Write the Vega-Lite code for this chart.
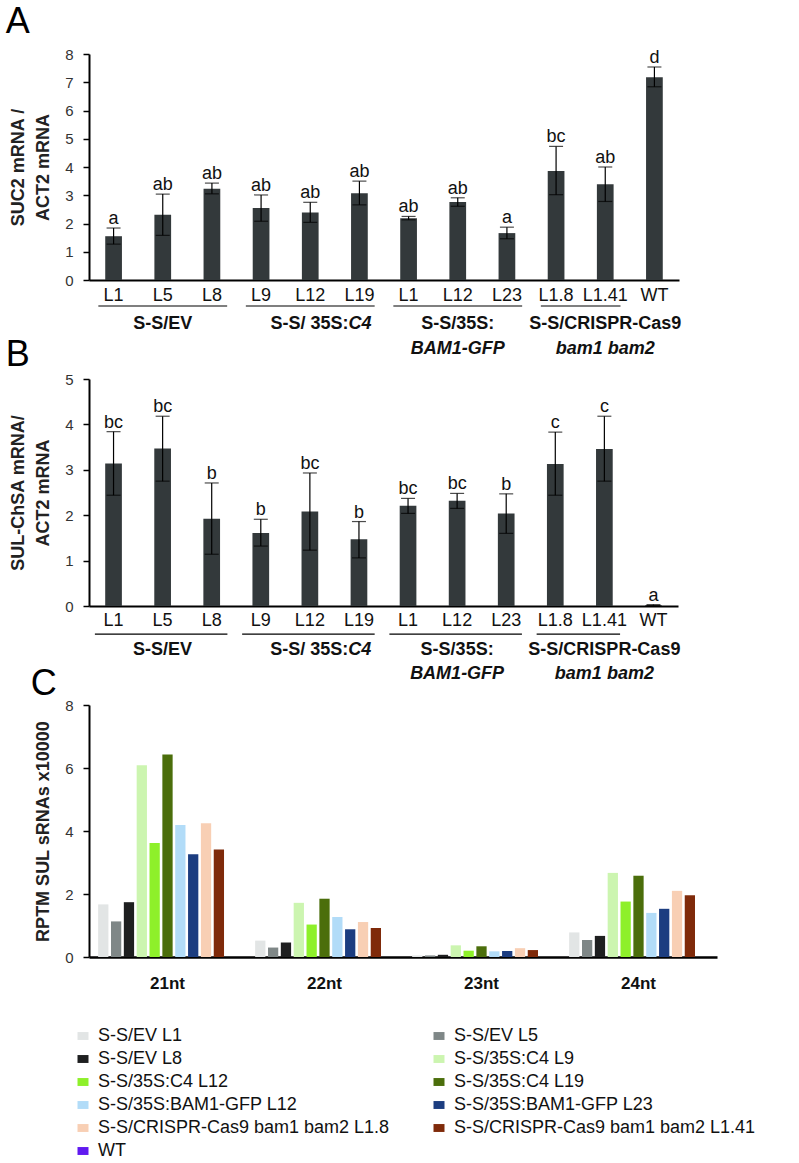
{
  "$schema": "https://vega.github.io/schema/vega-lite/v6.json",
  "padding": {"left": 5, "top": 4, "right": 5, "bottom": 0},
  "config": {
    "font": "Liberation Sans",
    "view": {"stroke": null},
    "axis": {"grid": false, "domainColor": "#000", "tickColor": "#000", "labelColor": "#333", "titleColor": "#222"}
  },
  "datasets": {
    "qA": [
      {"id": "EV L1", "mean": 1.55, "lo": 1.27, "hi": 1.84, "sig": "a"},
      {"id": "EV L5", "mean": 2.31, "lo": 1.58, "hi": 3.04, "sig": "ab"},
      {"id": "EV L8", "mean": 3.23, "lo": 3.05, "hi": 3.43, "sig": "ab"},
      {"id": "C4 L9", "mean": 2.55, "lo": 2.08, "hi": 3.01, "sig": "ab"},
      {"id": "C4 L12", "mean": 2.39, "lo": 2.04, "hi": 2.75, "sig": "ab"},
      {"id": "C4 L19", "mean": 3.07, "lo": 2.66, "hi": 3.5, "sig": "ab"},
      {"id": "BAM L1", "mean": 2.19, "lo": 2.13, "hi": 2.25, "sig": "ab"},
      {"id": "BAM L12", "mean": 2.76, "lo": 2.61, "hi": 2.91, "sig": "ab"},
      {"id": "BAM L23", "mean": 1.66, "lo": 1.46, "hi": 1.87, "sig": "a"},
      {"id": "CR L1.8", "mean": 3.86, "lo": 3.02, "hi": 4.73, "sig": "bc"},
      {"id": "CR L1.41", "mean": 3.39, "lo": 2.78, "hi": 4.0, "sig": "ab"},
      {"id": "WT", "mean": 7.18, "lo": 6.84, "hi": 7.54, "sig": "d"}
    ],
    "qB": [
      {"id": "EV L1", "mean": 3.14, "lo": 2.44, "hi": 3.84, "sig": "bc"},
      {"id": "EV L5", "mean": 3.47, "lo": 2.75, "hi": 4.18, "sig": "bc"},
      {"id": "EV L8", "mean": 1.92, "lo": 1.14, "hi": 2.71, "sig": "b"},
      {"id": "C4 L9", "mean": 1.61, "lo": 1.32, "hi": 1.91, "sig": "b"},
      {"id": "C4 L12", "mean": 2.08, "lo": 1.23, "hi": 2.93, "sig": "bc"},
      {"id": "C4 L19", "mean": 1.47, "lo": 1.06, "hi": 1.86, "sig": "b"},
      {"id": "BAM L1", "mean": 2.21, "lo": 2.04, "hi": 2.37, "sig": "bc"},
      {"id": "BAM L12", "mean": 2.32, "lo": 2.15, "hi": 2.48, "sig": "bc"},
      {"id": "BAM L23", "mean": 2.04, "lo": 1.6, "hi": 2.47, "sig": "b"},
      {"id": "CR L1.8", "mean": 3.13, "lo": 2.44, "hi": 3.83, "sig": "c"},
      {"id": "CR L1.41", "mean": 3.46, "lo": 2.75, "hi": 4.18, "sig": "c"},
      {"id": "WT", "mean": 0.02, "lo": 0.01, "hi": 0.03, "sig": "a"}
    ],
    "groups": [
      {"first": "EV L1", "last": "EV L8", "center": "EV L5", "name": "S-S/EV"},
      {"first": "C4 L9", "last": "C4 L19", "center": "C4 L12", "name": "S-S/ 35S:", "construct": "C4"},
      {"first": "BAM L1", "last": "BAM L23", "center": "BAM L12", "name": "S-S/35S:", "construct": "BAM1-GFP"},
      {"first": "CR L1.8", "last": "CR L1.41", "center": "CR L1.41", "name": "S-S/CRISPR-Cas9", "construct": "bam1 bam2"}
    ],
    "srna": [
      {"size": "21nt", "sample": "S-S/EV L1", "value": 1.67},
      {"size": "21nt", "sample": "S-S/EV L5", "value": 1.13},
      {"size": "21nt", "sample": "S-S/EV L8", "value": 1.74},
      {"size": "21nt", "sample": "S-S/35S:C4 L9", "value": 6.09},
      {"size": "21nt", "sample": "S-S/35S:C4 L12", "value": 3.62},
      {"size": "21nt", "sample": "S-S/35S:C4 L19", "value": 6.43},
      {"size": "21nt", "sample": "S-S/35S:BAM1-GFP L12", "value": 4.19},
      {"size": "21nt", "sample": "S-S/35S:BAM1-GFP L23", "value": 3.26},
      {"size": "21nt", "sample": "S-S/CRISPR-Cas9 bam1 bam2 L1.8", "value": 4.25},
      {"size": "21nt", "sample": "S-S/CRISPR-Cas9 bam1 bam2 L1.41", "value": 3.41},
      {"size": "21nt", "sample": "WT", "value": 0},
      {"size": "22nt", "sample": "S-S/EV L1", "value": 0.52},
      {"size": "22nt", "sample": "S-S/EV L5", "value": 0.3},
      {"size": "22nt", "sample": "S-S/EV L8", "value": 0.46},
      {"size": "22nt", "sample": "S-S/35S:C4 L9", "value": 1.72},
      {"size": "22nt", "sample": "S-S/35S:C4 L12", "value": 1.03},
      {"size": "22nt", "sample": "S-S/35S:C4 L19", "value": 1.85},
      {"size": "22nt", "sample": "S-S/35S:BAM1-GFP L12", "value": 1.27},
      {"size": "22nt", "sample": "S-S/35S:BAM1-GFP L23", "value": 0.88},
      {"size": "22nt", "sample": "S-S/CRISPR-Cas9 bam1 bam2 L1.8", "value": 1.11},
      {"size": "22nt", "sample": "S-S/CRISPR-Cas9 bam1 bam2 L1.41", "value": 0.92},
      {"size": "22nt", "sample": "WT", "value": 0},
      {"size": "23nt", "sample": "S-S/EV L1", "value": 0.05},
      {"size": "23nt", "sample": "S-S/EV L5", "value": 0.05},
      {"size": "23nt", "sample": "S-S/EV L8", "value": 0.07},
      {"size": "23nt", "sample": "S-S/35S:C4 L9", "value": 0.37},
      {"size": "23nt", "sample": "S-S/35S:C4 L12", "value": 0.2},
      {"size": "23nt", "sample": "S-S/35S:C4 L19", "value": 0.34},
      {"size": "23nt", "sample": "S-S/35S:BAM1-GFP L12", "value": 0.18},
      {"size": "23nt", "sample": "S-S/35S:BAM1-GFP L23", "value": 0.19},
      {"size": "23nt", "sample": "S-S/CRISPR-Cas9 bam1 bam2 L1.8", "value": 0.28},
      {"size": "23nt", "sample": "S-S/CRISPR-Cas9 bam1 bam2 L1.41", "value": 0.22},
      {"size": "23nt", "sample": "WT", "value": 0},
      {"size": "24nt", "sample": "S-S/EV L1", "value": 0.78},
      {"size": "24nt", "sample": "S-S/EV L5", "value": 0.54},
      {"size": "24nt", "sample": "S-S/EV L8", "value": 0.67},
      {"size": "24nt", "sample": "S-S/35S:C4 L9", "value": 2.67},
      {"size": "24nt", "sample": "S-S/35S:C4 L12", "value": 1.76},
      {"size": "24nt", "sample": "S-S/35S:C4 L19", "value": 2.58},
      {"size": "24nt", "sample": "S-S/35S:BAM1-GFP L12", "value": 1.4},
      {"size": "24nt", "sample": "S-S/35S:BAM1-GFP L23", "value": 1.53},
      {"size": "24nt", "sample": "S-S/CRISPR-Cas9 bam1 bam2 L1.8", "value": 2.1},
      {"size": "24nt", "sample": "S-S/CRISPR-Cas9 bam1 bam2 L1.41", "value": 1.96},
      {"size": "24nt", "sample": "WT", "value": 0}
    ]
  },
  "bounds": "flush",
  "spacing": 99,
  "vconcat": [
    {
      "title": {"text": "A", "fontSize": 36, "fontWeight": "normal", "anchor": "start", "frame": "bounds", "dx": -4, "offset": 6, "color": "#000"},
      "width": 590,
      "height": 226,
      "layer": [
        {
          "data": {"name": "qA"},
          "mark": {"type": "bar", "color": "#33393b", "width": {"band": 0.34}},
          "encoding": {
            "x": {"field": "id", "type": "nominal", "scale": {"domain": ["EV L1","EV L5","EV L8","C4 L9","C4 L12","C4 L19","BAM L1","BAM L12","BAM L23","CR L1.8","CR L1.41","WT"], "paddingInner": 0, "paddingOuter": 0},
              "axis": {"title": null, "labelExpr": "split(datum.value, ' ')[1] || datum.value", "labelAngle": 0, "labelFontSize": 18, "labelColor": "#111", "ticks": false, "labelPadding": 6, "domainWidth": 2}},
            "y": {"field": "mean", "type": "quantitative", "scale": {"domain": [0, 8], "nice": false},
              "axis": {"values": [0,1,2,3,4,5,6,7,8], "tickCount": 12, "format": "d", "labelOverlap": false, "title": ["SUC2 mRNA /", "ACT2 mRNA"], "titleFontSize": 18, "titleFontWeight": "bold", "titleLineHeight": 25, "titlePadding": 12, "labelFontSize": 15, "labelPadding": 10, "tickSize": 6, "tickWidth": 1.5, "domainWidth": 2}}
          }
        },
        {
          "data": {"name": "qA"},
          "mark": {"type": "errorbar", "ticks": true, "size": 14, "thickness": 1.2, "color": "#000"},
          "encoding": {
            "x": {"field": "id", "type": "nominal", "scale": {"domain": ["EV L1","EV L5","EV L8","C4 L9","C4 L12","C4 L19","BAM L1","BAM L12","BAM L23","CR L1.8","CR L1.41","WT"]}},
            "y": {"field": "lo", "type": "quantitative",
              "axis": {"values": [0,1,2,3,4,5,6,7,8], "tickCount": 12, "format": "d", "labelOverlap": false, "title": ["SUC2 mRNA /", "ACT2 mRNA"], "titleFontSize": 18, "titleFontWeight": "bold", "titleLineHeight": 25, "titlePadding": 12, "labelFontSize": 15, "labelPadding": 10, "tickSize": 6, "tickWidth": 1.5, "domainWidth": 2}},
            "y2": {"field": "hi"}
          }
        },
        {
          "data": {"name": "qA"},
          "mark": {"type": "text", "fontSize": 18, "baseline": "alphabetic", "dy": -4, "color": "#111"},
          "encoding": {
            "x": {"field": "id", "type": "nominal", "scale": {"domain": ["EV L1","EV L5","EV L8","C4 L9","C4 L12","C4 L19","BAM L1","BAM L12","BAM L23","CR L1.8","CR L1.41","WT"]}},
            "y": {"field": "hi", "type": "quantitative",
              "axis": {"values": [0,1,2,3,4,5,6,7,8], "tickCount": 12, "format": "d", "labelOverlap": false, "title": ["SUC2 mRNA /", "ACT2 mRNA"], "titleFontSize": 18, "titleFontWeight": "bold", "titleLineHeight": 25, "titlePadding": 12, "labelFontSize": 15, "labelPadding": 10, "tickSize": 6, "tickWidth": 1.5, "domainWidth": 2}},
            "text": {"field": "sig"}
          }
        },
        {
          "data": {"name": "groups"},
          "mark": {"type": "rule", "color": "#000", "strokeWidth": 1.2},
          "encoding": {
            "x": {"field": "first", "type": "nominal", "bandPosition": 0.19, "scale": {"domain": ["EV L1","EV L5","EV L8","C4 L9","C4 L12","C4 L19","BAM L1","BAM L12","BAM L23","CR L1.8","CR L1.41","WT"]}},
            "x2": {"field": "last", "bandPosition": 0.81},
            "y": {"datum": -0.92, "type": "quantitative"}
          }
        },
        {
          "data": {"name": "groups"},
          "transform": [{"filter": "datum.first != 'C4 L9'"}],
          "mark": {"type": "text", "fontSize": 18, "fontWeight": "bold", "baseline": "middle", "color": "#111"},
          "encoding": {
            "x": {"field": "center", "type": "nominal", "scale": {"domain": ["EV L1","EV L5","EV L8","C4 L9","C4 L12","C4 L19","BAM L1","BAM L12","BAM L23","CR L1.8","CR L1.41","WT"]}},
            "y": {"datum": -1.56, "type": "quantitative"},
            "text": {"field": "name"}
          }
        },
        {
          "data": {"name": "groups"},
          "transform": [{"filter": "datum.first != 'C4 L9' && isValid(datum.construct)"}],
          "mark": {"type": "text", "fontSize": 18, "fontWeight": "bold", "fontStyle": "italic", "baseline": "middle", "color": "#111"},
          "encoding": {
            "x": {"field": "center", "type": "nominal", "scale": {"domain": ["EV L1","EV L5","EV L8","C4 L9","C4 L12","C4 L19","BAM L1","BAM L12","BAM L23","CR L1.8","CR L1.41","WT"]}},
            "y": {"datum": -2.44, "type": "quantitative"},
            "text": {"field": "construct"}
          }
        },
        {
          "data": {"name": "groups"},
          "transform": [{"filter": "datum.first == 'C4 L9'"}],
          "mark": {"type": "text", "fontSize": 18, "fontWeight": "bold", "baseline": "middle", "align": "right", "color": "#111"},
          "encoding": {
            "x": {"field": "last", "type": "nominal", "bandPosition": 0.28, "scale": {"domain": ["EV L1","EV L5","EV L8","C4 L9","C4 L12","C4 L19","BAM L1","BAM L12","BAM L23","CR L1.8","CR L1.41","WT"]}},
            "y": {"datum": -1.56, "type": "quantitative"},
            "text": {"field": "name"}
          }
        },
        {
          "data": {"name": "groups"},
          "transform": [{"filter": "datum.first == 'C4 L9'"}],
          "mark": {"type": "text", "fontSize": 18, "fontWeight": "bold", "fontStyle": "italic", "baseline": "middle", "align": "left", "color": "#111"},
          "encoding": {
            "x": {"field": "last", "type": "nominal", "bandPosition": 0.28, "scale": {"domain": ["EV L1","EV L5","EV L8","C4 L9","C4 L12","C4 L19","BAM L1","BAM L12","BAM L23","CR L1.8","CR L1.41","WT"]}},
            "y": {"datum": -1.56, "type": "quantitative"},
            "text": {"field": "construct"}
          }
        }
      ]
    },
    {
      "title": {"text": "B", "fontSize": 36, "fontWeight": "normal", "anchor": "start", "frame": "bounds", "dx": -4, "offset": -2, "color": "#000"},
      "width": 589,
      "height": 227,
      "layer": [
        {
          "data": {"name": "qB"},
          "mark": {"type": "bar", "color": "#33393b", "width": {"band": 0.34}},
          "encoding": {
            "x": {"field": "id", "type": "nominal", "scale": {"domain": ["EV L1","EV L5","EV L8","C4 L9","C4 L12","C4 L19","BAM L1","BAM L12","BAM L23","CR L1.8","CR L1.41","WT"], "paddingInner": 0, "paddingOuter": 0},
              "axis": {"title": null, "labelExpr": "split(datum.value, ' ')[1] || datum.value", "labelAngle": 0, "labelFontSize": 18, "labelColor": "#111", "ticks": false, "labelPadding": 5, "domainWidth": 2}},
            "y": {"field": "mean", "type": "quantitative", "scale": {"domain": [0, 5], "nice": false},
              "axis": {"values": [0,1,2,3,4,5], "tickCount": 10, "format": "d", "labelOverlap": false, "title": ["SUL-ChSA mRNA/", "ACT2 mRNA"], "titleFontSize": 18, "titleFontWeight": "bold", "titleLineHeight": 25, "titlePadding": 12, "labelFontSize": 15, "labelPadding": 10, "tickSize": 6, "tickWidth": 1.5, "domainWidth": 2}}
          }
        },
        {
          "data": {"name": "qB"},
          "mark": {"type": "errorbar", "ticks": true, "size": 14, "thickness": 1.2, "color": "#000"},
          "encoding": {
            "x": {"field": "id", "type": "nominal", "scale": {"domain": ["EV L1","EV L5","EV L8","C4 L9","C4 L12","C4 L19","BAM L1","BAM L12","BAM L23","CR L1.8","CR L1.41","WT"]}},
            "y": {"field": "lo", "type": "quantitative",
              "axis": {"values": [0,1,2,3,4,5], "tickCount": 10, "format": "d", "labelOverlap": false, "title": ["SUL-ChSA mRNA/", "ACT2 mRNA"], "titleFontSize": 18, "titleFontWeight": "bold", "titleLineHeight": 25, "titlePadding": 12, "labelFontSize": 15, "labelPadding": 10, "tickSize": 6, "tickWidth": 1.5, "domainWidth": 2}},
            "y2": {"field": "hi"}
          }
        },
        {
          "data": {"name": "qB"},
          "mark": {"type": "text", "fontSize": 18, "baseline": "alphabetic", "dy": -4, "color": "#111"},
          "encoding": {
            "x": {"field": "id", "type": "nominal", "scale": {"domain": ["EV L1","EV L5","EV L8","C4 L9","C4 L12","C4 L19","BAM L1","BAM L12","BAM L23","CR L1.8","CR L1.41","WT"]}},
            "y": {"field": "hi", "type": "quantitative",
              "axis": {"values": [0,1,2,3,4,5], "tickCount": 10, "format": "d", "labelOverlap": false, "title": ["SUL-ChSA mRNA/", "ACT2 mRNA"], "titleFontSize": 18, "titleFontWeight": "bold", "titleLineHeight": 25, "titlePadding": 12, "labelFontSize": 15, "labelPadding": 10, "tickSize": 6, "tickWidth": 1.5, "domainWidth": 2}},
            "text": {"field": "sig"}
          }
        },
        {
          "data": {"name": "groups"},
          "mark": {"type": "rule", "color": "#000", "strokeWidth": 1.2},
          "encoding": {
            "x": {"field": "first", "type": "nominal", "bandPosition": 0.12, "scale": {"domain": ["EV L1","EV L5","EV L8","C4 L9","C4 L12","C4 L19","BAM L1","BAM L12","BAM L23","CR L1.8","CR L1.41","WT"]}},
            "x2": {"field": "last", "bandPosition": 0.82},
            "y": {"datum": -0.62, "type": "quantitative"}
          }
        },
        {
          "data": {"name": "groups"},
          "transform": [{"filter": "datum.first != 'C4 L9'"}],
          "mark": {"type": "text", "fontSize": 18, "fontWeight": "bold", "baseline": "middle", "color": "#111"},
          "encoding": {
            "x": {"field": "center", "type": "nominal", "scale": {"domain": ["EV L1","EV L5","EV L8","C4 L9","C4 L12","C4 L19","BAM L1","BAM L12","BAM L23","CR L1.8","CR L1.41","WT"]}},
            "y": {"datum": -0.97, "type": "quantitative"},
            "text": {"field": "name"}
          }
        },
        {
          "data": {"name": "groups"},
          "transform": [{"filter": "datum.first != 'C4 L9' && isValid(datum.construct)"}],
          "mark": {"type": "text", "fontSize": 18, "fontWeight": "bold", "fontStyle": "italic", "baseline": "middle", "color": "#111"},
          "encoding": {
            "x": {"field": "center", "type": "nominal", "scale": {"domain": ["EV L1","EV L5","EV L8","C4 L9","C4 L12","C4 L19","BAM L1","BAM L12","BAM L23","CR L1.8","CR L1.41","WT"]}},
            "y": {"datum": -1.5, "type": "quantitative"},
            "text": {"field": "construct"}
          }
        },
        {
          "data": {"name": "groups"},
          "transform": [{"filter": "datum.first == 'C4 L9'"}],
          "mark": {"type": "text", "fontSize": 18, "fontWeight": "bold", "baseline": "middle", "align": "right", "color": "#111"},
          "encoding": {
            "x": {"field": "last", "type": "nominal", "bandPosition": 0.28, "scale": {"domain": ["EV L1","EV L5","EV L8","C4 L9","C4 L12","C4 L19","BAM L1","BAM L12","BAM L23","CR L1.8","CR L1.41","WT"]}},
            "y": {"datum": -0.97, "type": "quantitative"},
            "text": {"field": "name"}
          }
        },
        {
          "data": {"name": "groups"},
          "transform": [{"filter": "datum.first == 'C4 L9'"}],
          "mark": {"type": "text", "fontSize": 18, "fontWeight": "bold", "fontStyle": "italic", "baseline": "middle", "align": "left", "color": "#111"},
          "encoding": {
            "x": {"field": "last", "type": "nominal", "bandPosition": 0.28, "scale": {"domain": ["EV L1","EV L5","EV L8","C4 L9","C4 L12","C4 L19","BAM L1","BAM L12","BAM L23","CR L1.8","CR L1.41","WT"]}},
            "y": {"datum": -0.97, "type": "quantitative"},
            "text": {"field": "construct"}
          }
        }
      ]
    },
    {
      "title": {"text": "C", "fontSize": 36, "fontWeight": "normal", "anchor": "start", "frame": "bounds", "dx": -4, "offset": -5, "color": "#000"},
      "width": 628,
      "height": 252,
      "data": {"name": "srna"},
      "mark": {"type": "bar"},
      "encoding": {
        "x": {"field": "size", "type": "nominal", "scale": {"paddingInner": 0.1, "paddingOuter": 0.05},
          "axis": {"title": null, "labelFontSize": 17, "labelFontWeight": "bold", "labelColor": "#111", "ticks": false, "labelPadding": 18, "domainWidth": 2.5, "labelAngle": 0}},
        "xOffset": {"field": "sample", "type": "nominal", "scale": {"domain": ["S-S/EV L1","S-S/EV L5","S-S/EV L8","S-S/35S:C4 L9","S-S/35S:C4 L12","S-S/35S:C4 L19","S-S/35S:BAM1-GFP L12","S-S/35S:BAM1-GFP L23","S-S/CRISPR-Cas9 bam1 bam2 L1.8","S-S/CRISPR-Cas9 bam1 bam2 L1.41","WT"], "paddingInner": 0.2, "paddingOuter": 0.1}},
        "y": {"field": "value", "type": "quantitative", "scale": {"domain": [0, 8], "nice": false},
          "axis": {"values": [0,2,4,6,8], "tickCount": 10, "format": "d", "labelOverlap": false, "title": "RPTM SUL sRNAs x10000", "titleFontSize": 18, "titleFontWeight": "bold", "titlePadding": 12, "labelFontSize": 15, "labelPadding": 10, "tickSize": 6, "tickWidth": 1.5, "domainWidth": 2}},
        "color": {"field": "sample", "type": "nominal",
          "scale": {"domain": ["S-S/EV L1","S-S/EV L5","S-S/EV L8","S-S/35S:C4 L9","S-S/35S:C4 L12","S-S/35S:C4 L19","S-S/35S:BAM1-GFP L12","S-S/35S:BAM1-GFP L23","S-S/CRISPR-Cas9 bam1 bam2 L1.8","S-S/CRISPR-Cas9 bam1 bam2 L1.41","WT"],
            "range": ["#e2e5e5","#7f8787","#1e1f20","#ccf5b0","#8ef02a","#4b6e0b","#b2dcf8","#1c3d80","#f8cfb4","#7f2a0a","#6019f0"]},
          "legend": {"orient": "none", "legendX": -15, "legendY": 973, "direction": "horizontal", "columns": 2, "title": null, "symbolType": "M-1,-0.72H1V0.72H-1Z", "symbolSize": 121, "symbolStrokeWidth": 0, "symbolOpacity": 1, "labelFontSize": 18, "labelColor": "#111", "labelOffset": 6, "rowPadding": 5, "columnPadding": 40, "padding": 0, "labelLimit": 400}
        }
      }
    }
  ]
}
